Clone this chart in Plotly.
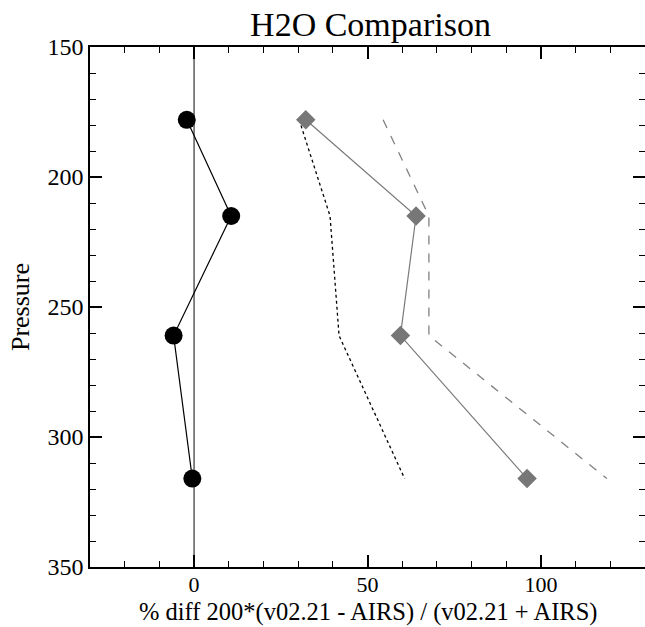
import plotly.graph_objects as go

pressure = [178, 215, 261, 316]
diff_black = [-2.1, 10.7, -5.9, -0.5]
diff_gray = [32.2, 64.0, 59.5, 96.0]
dotted_vals = [30.3, 39.2, 41.8, 60.7]
dashed_vals = [54.5, 67.7, 67.7, 119.0]

font_family = "Liberation Serif, Times New Roman, serif"

fig = go.Figure()
fig.add_trace(go.Scatter(x=[0, 0], y=[150, 350], mode="lines",
                         line=dict(color="#333333", width=1.2), showlegend=False))
fig.add_trace(go.Scatter(x=dotted_vals, y=pressure, mode="lines",
                         line=dict(color="black", width=1.3, dash="dot"), showlegend=False))
fig.add_trace(go.Scatter(x=dashed_vals, y=pressure, mode="lines",
                         line=dict(color="#808080", width=1.3, dash="dash"), showlegend=False))
fig.add_trace(go.Scatter(x=diff_gray, y=pressure, mode="lines+markers",
                         line=dict(color="#7a7a7a", width=1.2),
                         marker=dict(symbol="diamond", size=15, color="#777777"),
                         showlegend=False))
fig.add_trace(go.Scatter(x=diff_black, y=pressure, mode="lines+markers",
                         line=dict(color="black", width=1.2),
                         marker=dict(symbol="circle", size=18, color="black"),
                         showlegend=False))

axis_common = dict(showgrid=False, zeroline=False, showline=True, linecolor="black",
                   linewidth=1.5, mirror="ticks", ticks="inside", tickcolor="black",
                   tickwidth=1.5, ticklen=12)

fig.update_xaxes(range=[-30, 130], tickvals=[0, 50, 100],
                 tickfont=dict(family=font_family, size=22, color="black"),
                 ticklabelstandoff=-3,
                 minor=dict(dtick=10, tick0=0, ticks="inside", ticklen=6, tickcolor="black", tickwidth=1),
                 **axis_common)
fig.update_yaxes(range=[350, 150], tickvals=[150, 200, 250, 300, 350],
                 tickfont=dict(family=font_family, size=24, color="black"),
                 minor=dict(dtick=10, tick0=150, ticks="inside", ticklen=6, tickcolor="black", tickwidth=1),
                 title=dict(text="Pressure", font=dict(family=font_family, size=26, color="black"), standoff=10),
                 **axis_common)

fig.add_annotation(text="% diff 200*(v02.21 - AIRS) / (v02.21 + AIRS)",
                   xref="paper", yref="paper", x=0.50, y=-0.117, xanchor="center", yanchor="bottom",
                   showarrow=False, font=dict(family=font_family, size=24.5, color="black"))

fig.update_layout(
    width=650, height=627,
    margin=dict(l=90, r=3, t=47, b=60),
    plot_bgcolor="white", paper_bgcolor="white",
    title=dict(text="H2O Comparison", x=0.57, xanchor="center", y=0.98, yanchor="top",
               font=dict(family=font_family, size=34, color="black")),
)

fig.write_html("out.html")
